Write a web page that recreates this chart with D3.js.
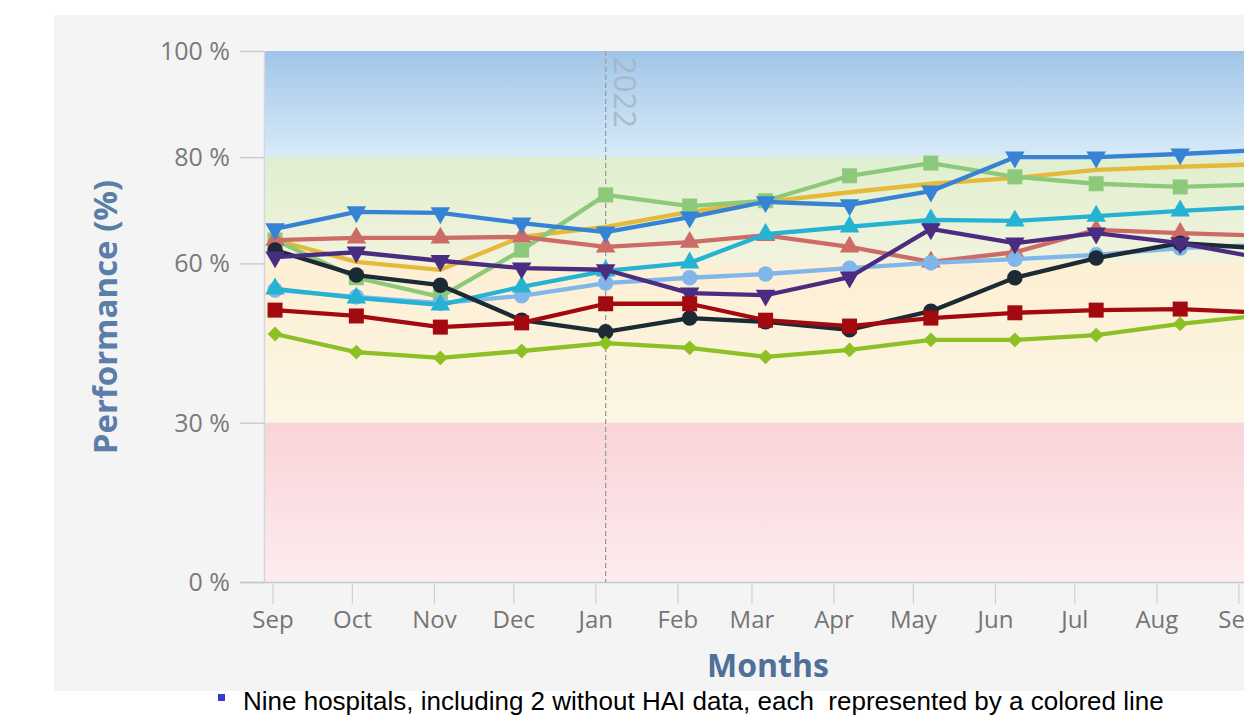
<!DOCTYPE html>
<html>
<head>
<meta charset="utf-8">
<script src="https://cdn.jsdelivr.net/npm/d3@7"></script>
<style>
  html, body { margin: 0; padding: 0; background: #ffffff; }
  svg { display: block; }
  text { font-family: "Open Sans", "DejaVu Sans", sans-serif; }
  text.caption { font-family: "Liberation Sans", Arial, sans-serif; white-space: pre; }
</style>
</head>
<body>
<svg id="chart" width="1244" height="726"></svg>
<script>
// Monthly reporting dates (first of each month)
const monthDates = ["2021-09-01","2021-10-01","2021-11-01","2021-12-01","2022-01-01","2022-02-01",
  "2022-03-01","2022-04-01","2022-05-01","2022-06-01","2022-07-01","2022-08-01","2022-09-01"];
const monthLabels = ["Sep","Oct","Nov","Dec","Jan","Feb","Mar","Apr","May","Jun","Jul","Aug","Sep"];

// Performance (%) per hospital, one value per month
const yellowSeries      = [64.4, 60.3, 58.8, 65.0, 66.9, 69.7, 71.6, 73.4, 75.0, 76.1, 77.6, 78.2, 78.7];
const lightGreenSeries  = [64.4, 57.3, 53.7, 62.5, 72.9, 70.8, 71.8, 76.5, 78.9, 76.3, 75.0, 74.4, 74.9];
const salmonSeries      = [64.4, 64.8, 64.8, 65.0, 63.1, 64.0, 65.3, 63.1, 60.3, 62.1, 66.3, 65.7, 65.2];
const lightBlueSeries   = [55.0, 53.7, 52.5, 53.9, 56.3, 57.3, 58.0, 59.1, 60.1, 60.8, 61.6, 62.9, 63.5];
const cyanSeries        = [55.2, 53.5, 52.2, 55.6, 58.6, 60.1, 65.5, 66.9, 68.2, 68.0, 68.9, 69.9, 70.7];
const blueSeries        = [66.5, 69.7, 69.5, 67.6, 65.9, 68.7, 71.6, 71.0, 73.6, 80.0, 80.0, 80.6, 81.4];
const blackSeries       = [62.5, 57.8, 55.9, 49.3, 47.1, 49.7, 49.0, 47.5, 51.0, 57.3, 61.0, 63.8, 62.8];
const purpleSeries      = [61.2, 62.1, 60.5, 59.1, 58.8, 54.4, 54.0, 57.4, 66.5, 63.8, 65.7, 63.8, 60.9];
const yellowGreenSeries = [46.7, 43.3, 42.2, 43.5, 45.0, 44.1, 42.4, 43.7, 45.6, 45.6, 46.5, 48.6, 50.3];
const darkRedSeries     = [51.2, 50.1, 48.0, 48.8, 52.4, 52.4, 49.3, 48.2, 49.7, 50.7, 51.2, 51.4, 50.7];

// Y axis ticks and performance bands
const yTicks = [0, 30, 60, 80, 100];
const bandBounds = [[80, 100], [60, 80], [30, 60], [0, 30]];

const seriesList = [
  { values: yellowSeries,      color: "#e5b93a", symbol: null },
  { values: lightGreenSeries,  color: "#8dc97a", symbol: "square" },
  { values: salmonSeries,      color: "#cd6b66", symbol: "triangle" },
  { values: lightBlueSeries,   color: "#80b6ea", symbol: "circle" },
  { values: cyanSeries,        color: "#26b2d2", symbol: "triangle" },
  { values: blueSeries,        color: "#3683d6", symbol: "triangle-down" },
  { values: blackSeries,       color: "#1b2a35", symbol: "circle" },
  { values: purpleSeries,      color: "#4a2c80", symbol: "triangle-down" },
  { values: yellowGreenSeries, color: "#8cc024", symbol: "diamond" },
  { values: darkRedSeries,     color: "#a20a10", symbol: "square" }
];

const svg = d3.select("#chart");
const W = 1244;
const parse = d3.utcParse("%Y-%m-%d");
const dates = monthDates.map(parse);

const plot = { left: 264, top: 51, bottom: 582, right: 1300 };

// Panel background
svg.append("rect").attr("x", 54).attr("y", 15).attr("width", W - 54).attr("height", 676)
  .attr("fill", "#f4f4f4");

const domainX = [parse("2021-08-28"), parse("2022-09-12")];
const x = d3.scaleUtc().domain(domainX).range([264.2, 1294]);
const xTicks = d3.scaleUtc().domain(domainX).range([262.4, 1268]);
const y = d3.scaleLinear().domain([0, 100]).range([plot.bottom, plot.top]);

// Band gradients
const defs = svg.append("defs");
const bandStops = [
  ["#a1c5e8", "#d8ebf8"],
  ["#dfefcf", "#f3f3de"],
  ["#fdefd4", "#fbf6e4"],
  ["#f9d4d8", "#fdecee"]
];
bandStops.forEach((s, i) => {
  const g = defs.append("linearGradient").attr("id", "band" + i)
    .attr("x1", 0).attr("y1", 0).attr("x2", 0).attr("y2", 1);
  g.append("stop").attr("offset", "0%").attr("stop-color", s[0]);
  g.append("stop").attr("offset", "100%").attr("stop-color", s[1]);
});
defs.append("clipPath").attr("id", "plotClip").append("rect")
  .attr("x", plot.left).attr("y", plot.top - 12)
  .attr("width", plot.right - plot.left).attr("height", plot.bottom - plot.top + 12);

svg.append("g").selectAll("rect").data(bandBounds).join("rect")
  .attr("x", plot.left).attr("width", plot.right - plot.left)
  .attr("y", d => y(d[1])).attr("height", d => y(d[0]) - y(d[1]))
  .attr("fill", (d, i) => `url(#band${i})`);

// Y axis: short ticks and labels
const yAxis = svg.append("g");
yAxis.selectAll("line").data(yTicks).join("line")
  .attr("x1", 240).attr("x2", plot.left).attr("y1", d => y(d) + 0.5).attr("y2", d => y(d) + 0.5)
  .attr("stroke", "#c8ccd2").attr("stroke-width", 1.5);
yAxis.selectAll("text").data(yTicks).join("text")
  .attr("x", 230).attr("y", d => y(d)).attr("dy", "0.36em")
  .attr("text-anchor", "end").attr("font-size", 25).attr("fill", "#7a7a7a")
  .text(d => d + " %");
svg.append("line").attr("x1", plot.left + 0.5).attr("x2", plot.left + 0.5)
  .attr("y1", plot.top).attr("y2", plot.bottom)
  .attr("stroke", "#d4d8de").attr("stroke-width", 1.5);

// X axis line, ticks and month labels
svg.append("line").attr("x1", 240).attr("x2", W).attr("y1", plot.bottom + 0.5).attr("y2", plot.bottom + 0.5)
  .attr("stroke", "#c4c8ce").attr("stroke-width", 1.5);
const xAxis = svg.append("g");
xAxis.selectAll("line").data(dates).join("line")
  .attr("x1", d => xTicks(d)).attr("x2", d => xTicks(d))
  .attr("y1", plot.bottom).attr("y2", plot.bottom + 22)
  .attr("stroke", "#cdd1d6").attr("stroke-width", 1.2);
xAxis.selectAll("text").data(dates).join("text")
  .attr("x", d => xTicks(d)).attr("y", 628)
  .attr("text-anchor", "middle").attr("font-size", 24).attr("fill", "#747474")
  .text((d, i) => monthLabels[i]);

// Year boundary
const yearStart = parse("2022-01-01");
svg.append("line").attr("x1", x(yearStart)).attr("x2", x(yearStart))
  .attr("y1", plot.top).attr("y2", plot.bottom)
  .attr("stroke", "#9a9ea4").attr("stroke-width", 1.3).attr("stroke-dasharray", "5,3");
svg.append("text").attr("transform", `translate(${x(yearStart) + 8},${plot.top + 6}) rotate(90)`)
  .attr("font-size", 31).attr("fill", "#a9b4c0").attr("opacity", 0.85)
  .text("2022");

// Axis titles
svg.append("text").attr("transform", "translate(117,317) rotate(-90)")
  .attr("text-anchor", "middle").attr("font-size", 33).attr("font-weight", "bold")
  .attr("fill", "#5a7ea8").text("Performance (%)");
svg.append("text").attr("x", 768).attr("y", 677)
  .attr("text-anchor", "middle").attr("font-size", 32).attr("font-weight", "bold")
  .attr("fill", "#4f7098").text("Months");

// Series lines and markers
const symbolPath = {
  "circle": d3.symbol(d3.symbolCircle, 190)(),
  "square": d3.symbol(d3.symbolSquare, 225)(),
  "triangle": d3.symbol(d3.symbolTriangle, 165)(),
  "triangle-down": d3.symbol(d3.symbolTriangle, 165)(),
  "diamond": d3.symbol(d3.symbolSquare, 110)()
};
const symbolRotate = { "triangle-down": 180, "diamond": 45 };

const lineGen = d3.line().x((d, i) => x(dates[i])).y(d => y(d));
const seriesLayer = svg.append("g").attr("clip-path", "url(#plotClip)");
seriesList.forEach(s => {
  const g = seriesLayer.append("g");
  g.append("path").datum(s.values).attr("d", lineGen)
    .attr("fill", "none").attr("stroke", s.color).attr("stroke-width", 4.3)
    .attr("stroke-linejoin", "round").attr("stroke-linecap", "round");
  if (s.symbol) {
    const rot = symbolRotate[s.symbol] || 0;
    g.selectAll("path.marker").data(s.values).join("path").attr("class", "marker")
      .attr("d", symbolPath[s.symbol])
      .attr("transform", (d, i) => `translate(${x(dates[i])},${y(d)}) rotate(${rot})`)
      .attr("fill", s.color);
  }
});

// Caption below the chart
svg.append("rect").attr("x", 218).attr("y", 694).attr("width", 7).attr("height", 7).attr("fill", "#3a3ad0");
svg.append("text").attr("class", "caption").attr("x", 243).attr("y", 710)
  .attr("font-size", 26).attr("fill", "#000")
  .text("Nine hospitals, including 2 without HAI data, each  represented by a colored line");
</script>
</body>
</html>
